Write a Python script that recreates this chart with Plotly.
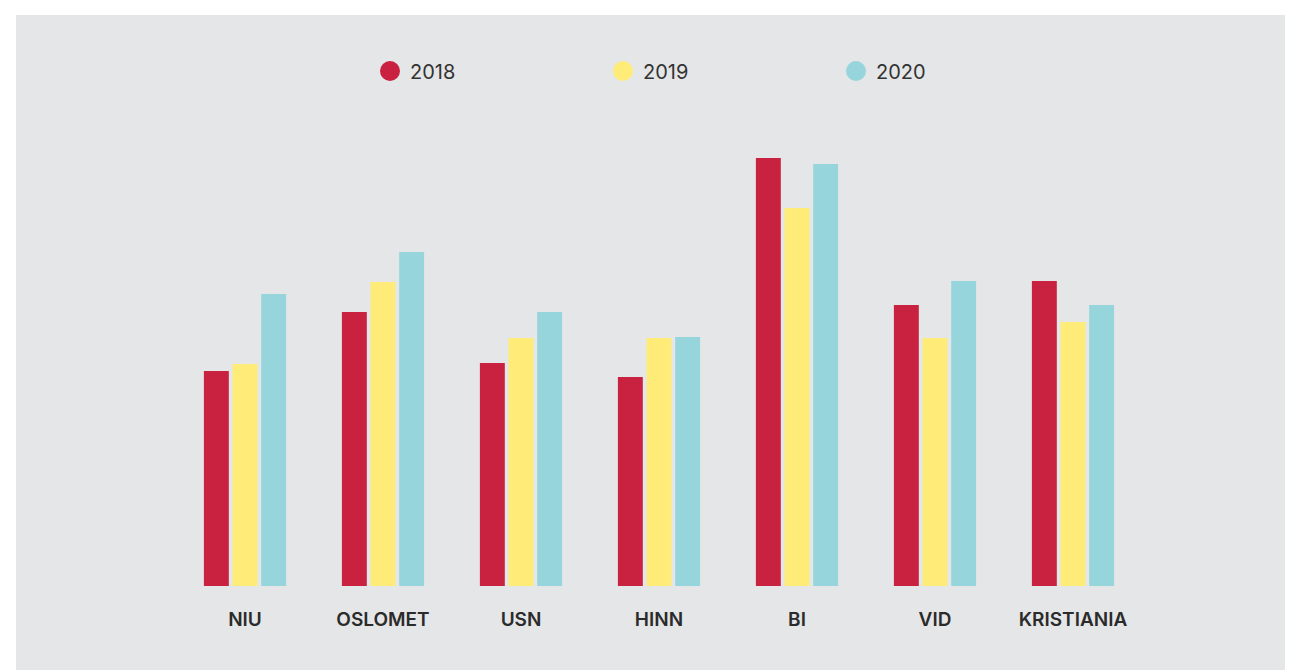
import plotly.graph_objects as go

categories = ["NIU", "OSLOMET", "USN", "HINN", "BI", "VID", "KRISTIANIA"]
years = ["2018", "2019", "2020"]
values_2018 = [215, 274, 223, 209, 428, 281, 305]
values_2019 = [222, 304, 248, 248, 378, 248, 264]
values_2020 = [292, 334, 274, 249, 422, 305, 281]
series = [values_2018, values_2019, values_2020]
colors = ["#c82240", "#ffec78", "#96d5db"]

# page is offset by 8px body margin
W, H = 1285, 662
L, T = 168, 112
R = W - 1134
B = H - 578
pw, ph = W - L - R, H - T - B

fig = go.Figure()
for name, vals, col in zip(years, series, colors):
    fig.add_trace(go.Bar(x=categories, y=vals, name=name, marker=dict(color=col, line=dict(width=0)),
                         showlegend=False, legendgroup=name))
for name, col in zip(years, colors):
    fig.add_trace(go.Scatter(x=[None], y=[None], mode="markers", name=name, legendgroup=name,
                             marker=dict(color=col, size=16, symbol="circle", line=dict(color=col, width=4))))

def px_x(p):
    return (p - L) / pw

def px_y(p):
    return (H - B - p) / ph

fig.add_shape(type="rect", xref="paper", yref="paper", x0=px_x(8), x1=px_x(W + 20), y0=px_y(H + 20), y1=px_y(7),
              fillcolor="#e5e6e8", line=dict(width=0), layer="below")

fig.update_layout(
    width=W, height=H,
    margin=dict(l=L, r=R, t=T, b=B, pad=0),
    paper_bgcolor="white", plot_bgcolor="rgba(0,0,0,0)",
    barmode="group", bargap=0.377, bargroupgap=0.13,
    font=dict(family="Inter, Roboto, sans-serif", color="#2b2b2b"),
    showlegend=True,
    legend=dict(orientation="h", x=px_x(362), xanchor="left", y=px_y(63), yanchor="middle",
                entrywidth=188, entrywidthmode="pixels", bgcolor="rgba(0,0,0,0)",
                font=dict(size=20, color="#333333", family="Inter, sans-serif"), itemsizing="trace"),
    xaxis=dict(showgrid=False, zeroline=False, showline=False, ticks="outside", ticklen=16,
               tickcolor="rgba(0,0,0,0)", range=[-0.5, 6.5],
               tickfont=dict(size=19, family="Inter, sans-serif", color="#2b2b2b", weight=600)),
    yaxis=dict(visible=False, range=[0, ph]),
)

fig.write_html("out.html")
